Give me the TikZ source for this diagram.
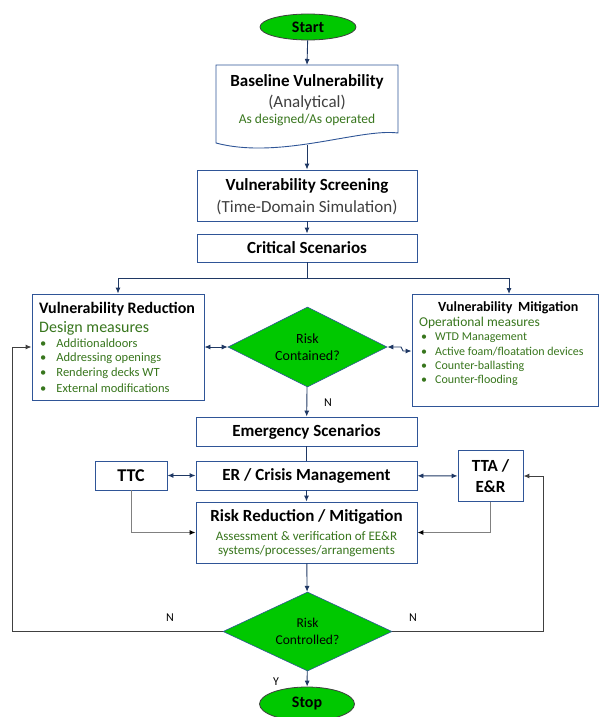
\documentclass[tikz,border=0pt]{standalone}
\usepackage{fontspec}
\setmainfont{Carlito}
\usetikzlibrary{shapes.geometric,arrows.meta}

\definecolor{boxblue}{RGB}{47,85,151}
\definecolor{arrowblue}{RGB}{31,56,100}
\definecolor{riskgreen}{RGB}{0,200,0}
\definecolor{notegreen}{RGB}{56,118,29}
\definecolor{subgray}{RGB}{64,64,64}
\definecolor{feedgray}{RGB}{128,128,128}

\newcommand{\fsz}[2]{\fontsize{#1}{#2}\selectfont}

\begin{document}
\begin{tikzpicture}
            [x=1pt, y=-1pt,
             box/.style={draw=boxblue, line width=0.9pt, fill=white, inner sep=0pt},
             term/.style={ellipse, draw=black!75, line width=0.8pt, fill=riskgreen, inner sep=0pt, font=\fsz{16}{19}\bfseries},
             decision/.style={diamond, aspect=2, draw=boxblue, line width=0.6pt, fill=riskgreen, inner sep=0pt, align=center, font=\fsz{14}{17}},
             txt/.style={inner sep=0pt},
             title/.style={inner sep=0pt, font=\fsz{17}{21}\bfseries},
             note/.style={inner sep=0pt, text=notegreen, font=\fsz{13.5}{15}},
             arr/.style={-{Latex[length=6pt,width=5pt]}, arrowblue, line width=0.9pt},
             darr/.style={{Latex[length=6pt,width=5pt]}-{Latex[length=6pt,width=5pt]}, arrowblue, line width=0.9pt},
             back/.style={-{Latex[length=6pt,width=5pt]}, black!75, line width=1pt},
             side/.style={-{Latex[length=6pt,width=5pt,color=black]}, feedgray, line width=1pt}]
            \useasboundingbox (0,0) rectangle (600,717);

            % Start and baseline
            \node[term, minimum width=96, minimum height=26] (start) at (308,27) {Start};
            \draw[box] (216,65) -- (398,65) -- (398,133)
                .. controls (360,128) and (280,160) .. (216,143) -- cycle;
            \coordinate (basetop) at (307,65);
            \coordinate (basebot) at (307,145);
            \node[title] (base) at (307,82) {Baseline Vulnerability};
            \node[txt, text=subgray, font=\fsz{17}{21}] (basesub) at (307,103) {(Analytical)};
            \node[note] (basenote) at (307,120) {As designed/As operated};

            % Screening and scenarios
            \node[box, minimum width=220, minimum height=51] (scr) at (307,195.5) {};
            \node[title] (scrtitle) at (307,186) {Vulnerability Screening};
            \node[txt, text=subgray, font=\fsz{17}{21}] (scrsub) at (307,207) {(Time-Domain Simulation)};
            \node[box, title, minimum width=220, minimum height=28] (crit) at (307,248) {Critical Scenarios};

            % Reduction (left) and mitigation (right)
            \node[box, minimum width=172, minimum height=106] (reduc) at (118,347) {};
            \node[txt, anchor=west, font=\fsz{16}{19}\bfseries] (reductitle) at (39,309) {Vulnerability Reduction};
            \node[txt, anchor=west, text=notegreen, font=\fsz{16}{19}] (reducsub) at (39,328) {Design measures};
            \foreach \entry [count=\i] in {Additionaldoors, Addressing openings, Rendering decks WT, External modifications}
                \node[txt, anchor=west, text=notegreen, font=\fsz{12.5}{15}] (redu\i) at (40,328+15*\i) {\textbullet\hspace{10pt}\entry};

            \node[box, minimum width=186, minimum height=112] (mitig) at (505,350) {};
            \node[txt, anchor=west, font=\fsz{14}{17}\bfseries] (mitigtitle) at (438,308) {Vulnerability\, Mitigation};
            \node[txt, anchor=west, text=notegreen, font=\fsz{13.5}{16}] (mitigsub) at (419,323) {Operational measures};
            \foreach \entry [count=\i] in {WTD Management, Active foam/floatation devices, Counter-ballasting, Counter-flooding}
                \node[txt, anchor=west, text=notegreen, font=\fsz{12}{14}] (miti\i) at (421,323+14.3*\i) {\textbullet\hspace{8pt}\entry};

            \node[decision, minimum width=159, minimum height=80] (contained) at (307.5,347) {Risk\\Contained?};

            % Emergency part
            \node[box, title, minimum width=221, minimum height=29] (emerg) at (306.5,431.5) {Emergency Scenarios};
            \node[box, title, minimum width=221, minimum height=29] (crisis) at (306.5,475.5) {ER / Crisis Management};
            \node[box, title, font=\fsz{18}{21}\bfseries, minimum width=72, minimum height=29] (ttc) at (131,475.5) {TTC};
            \node[box, title, align=center, minimum width=65, minimum height=51] (tta) at (490.5,476) {TTA /\\E\&R};
            \node[box, minimum width=221, minimum height=61] (rr) at (306.5,532.5) {};
            \node[title] (rrtitle) at (306.5,517) {Risk Reduction / Mitigation};
            \node[note, font=\fsz{13}{15}] (rrnote1) at (306.5,536) {Assessment \& verification of EE\&R};
            \node[note, font=\fsz{13}{15}] (rrnote2) at (306.5,551) {systems/processes/arrangements};

            \node[decision, minimum width=169, minimum height=79, font=\fsz{13.5}{17}] (ctrl) at (307.5,631.5) {Risk\\Controlled?};
            \node[term, minimum width=95, minimum height=34] (stop) at (307,704) {Stop};

            % Labels
            \node[txt, font=\fsz{12}{14}] (lbln) at (328,403) {N};
            \node[txt, font=\fsz{12}{14}] (lblleft) at (170,618) {N};
            \node[txt, font=\fsz{12}{14}] (lblright) at (413,618) {N};
            \node[txt, font=\fsz{12}{14}] (lbly) at (276,682) {Y};

            % Draw arrows
            \draw[arr] (start) -- (basetop);                       % Start to baseline
            \draw[arr] (basebot) -- (scr.north);                   % Baseline to screening
            \draw[arr] (scr) -- (crit);                            % Screening to scenarios
            \draw[arrowblue, line width=0.9pt] (crit.south) -- (307,278);
            \draw[arr] (307,278) -| (reduc.north);                 % to reduction
            \draw[arr] (307,278) -| (509,294);                     % to mitigation
            \draw[darr] (reduc.east) -- (contained.west);
            \draw[darr] (contained.east) -- (401,347) -- (403,351) -- (mitig.west |- 0,351);
            \draw[arr] (contained) -- (emerg);                     % N to emergency
            \draw[arrowblue, line width=0.9pt] (emerg) -- (crisis);
            \draw[darr] (ttc) -- (crisis);
            \draw[darr] (crisis) -- (tta);
            \draw[arr] (crisis) -- (rr);                           % crisis to reduction
            \draw[side] (ttc.south) |- (rr.west);
            \draw[side] (tta.south) |- (rr.east);
            \draw[arr] (rr) -- (ctrl);                             % to decision
            \draw[arr] (ctrl) -- (stop);                           % Y to stop
            \draw[back] (ctrl.west) -- (12,631.5) |- (reduc.west); % N back to reduction
            \draw[back] (ctrl.east) -- (543,631.5) |- (tta.east);  % N back to TTA
        \end{tikzpicture}
\end{document}
